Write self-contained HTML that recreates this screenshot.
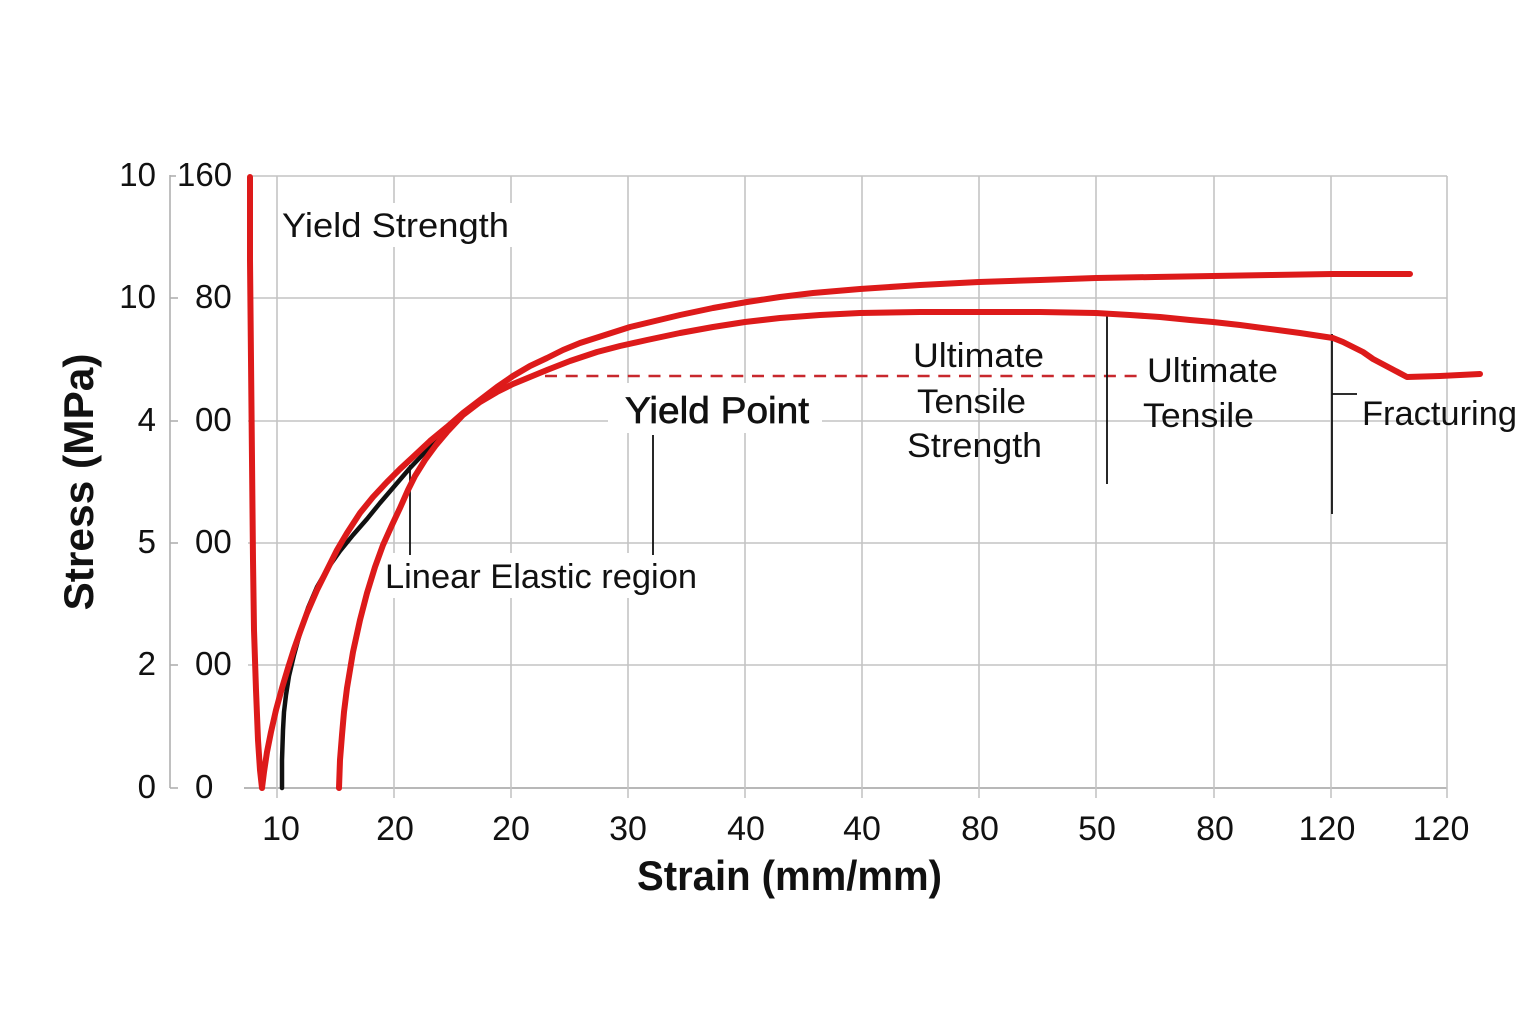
<!DOCTYPE html>
<html>
<head>
<meta charset="utf-8">
<style>
  html, body { margin: 0; padding: 0; background: #ffffff; }
  body { width: 1536px; height: 1024px; overflow: hidden; }
  svg { display: block; }
  text { font-family: "Liberation Sans", "DejaVu Sans", sans-serif; fill: #111; }
</style>
</head>
<body>
<svg width="1536" height="1024" viewBox="0 0 1536 1024" xmlns="http://www.w3.org/2000/svg">
  <rect x="0" y="0" width="1536" height="1024" fill="#ffffff"/>

  <!-- grid: horizontal -->
  <g stroke="#c4c4c4" stroke-width="1.6" fill="none">
    <line x1="252" y1="176" x2="1447" y2="176"/>
    <line x1="248" y1="298" x2="1447" y2="298"/>
    <line x1="248" y1="421" x2="1447" y2="421"/>
    <line x1="248" y1="543" x2="1447" y2="543"/>
    <line x1="248" y1="665" x2="1447" y2="665"/>
    <line x1="244" y1="788" x2="1447" y2="788" stroke="#b8b8b8" stroke-width="2"/>
  </g>
  <!-- grid: vertical -->
  <g stroke="#c4c4c4" stroke-width="1.6" fill="none">
    <line x1="277" y1="176" x2="277" y2="798"/>
    <line x1="394" y1="176" x2="394" y2="798"/>
    <line x1="511" y1="176" x2="511" y2="798"/>
    <line x1="628" y1="176" x2="628" y2="798"/>
    <line x1="745" y1="176" x2="745" y2="798"/>
    <line x1="862" y1="176" x2="862" y2="798"/>
    <line x1="979" y1="176" x2="979" y2="798"/>
    <line x1="1096" y1="176" x2="1096" y2="798"/>
    <line x1="1214" y1="176" x2="1214" y2="798"/>
    <line x1="1331" y1="176" x2="1331" y2="798"/>
    <line x1="1447" y1="176" x2="1447" y2="798"/>
  </g>

  <!-- left axis line with ticks -->
  <g stroke="#b0b0b0" stroke-width="1.6" fill="none">
    <line x1="170" y1="175" x2="170" y2="788"/>
    <line x1="170" y1="176" x2="176" y2="176"/>
    <line x1="170" y1="298" x2="178" y2="298"/>
    <line x1="170" y1="421" x2="178" y2="421"/>
    <line x1="170" y1="543" x2="178" y2="543"/>
    <line x1="170" y1="665" x2="178" y2="665"/>
    <line x1="170" y1="788" x2="178" y2="788"/>
  </g>

  <!-- white boxes behind some labels -->
  <rect x="279" y="203" width="235" height="44" fill="#fff"/>
  <rect x="381" y="553" width="321" height="45" fill="#fff"/>
  <rect x="608" y="383" width="214" height="50" fill="#fff"/>

  <!-- y tick labels -->
  <g font-size="33">
    <text x="156" y="186" text-anchor="end">10</text>
    <text x="156" y="308" text-anchor="end">10</text>
    <text x="156" y="431" text-anchor="end">4</text>
    <text x="156" y="553" text-anchor="end">5</text>
    <text x="156" y="675" text-anchor="end">2</text>
    <text x="156" y="798" text-anchor="end">0</text>

    <text x="177" y="186">160</text>
    <text x="195" y="308">80</text>
    <text x="195" y="431">00</text>
    <text x="195" y="553">00</text>
    <text x="195" y="675">00</text>
    <text x="195" y="798">0</text>
  </g>

  <!-- x tick labels -->
  <g font-size="34" text-anchor="middle">
    <text x="281" y="840">10</text>
    <text x="395" y="840">20</text>
    <text x="511" y="840">20</text>
    <text x="628" y="840">30</text>
    <text x="746" y="840">40</text>
    <text x="862" y="840">40</text>
    <text x="980" y="840">80</text>
    <text x="1097" y="840">50</text>
    <text x="1215" y="840">80</text>
    <text x="1327" y="840">120</text>
    <text x="1441" y="840">120</text>
  </g>

  <!-- axis titles -->
  <text x="637" y="890" font-size="42" font-weight="bold" textLength="305" lengthAdjust="spacingAndGlyphs">Strain (mm/mm)</text>
  <text transform="translate(93,482) rotate(-90)" text-anchor="middle" font-size="42" font-weight="bold" textLength="257" lengthAdjust="spacingAndGlyphs">Stress (MPa)</text>

  <!-- dashed yield line -->
  <line x1="545" y1="376" x2="1141" y2="376" stroke="#c8282d" stroke-width="2.6" stroke-dasharray="12,8.7"/>

  <!-- annotation leader lines -->
  <g stroke="#111" stroke-width="1.8" fill="none">
    <line x1="410" y1="465" x2="410" y2="555"/>
    <line x1="653" y1="435" x2="653" y2="555"/>
    <line x1="1107" y1="316" x2="1107" y2="484"/>
    <line x1="1332" y1="334" x2="1332" y2="514"/>
    <line x1="1332" y1="394" x2="1357" y2="394"/>
  </g>

  <!-- black elastic curve -->
  <polyline fill="none" stroke="#111" stroke-width="4.5" stroke-linejoin="round" stroke-linecap="round"
    points="282,788 282,760 283,730 284,712 286,695 289,676 294,655 300,633 308,608 317,587 328,568 340,551 353,535 367,519 380,503 392,489 410,468 430,447 463,414"/>

  <!-- red curve B (lower) -->
  <polyline fill="none" stroke="#dd1a1a" stroke-width="6" stroke-linejoin="round" stroke-linecap="round"
    points="339,788 340,760 342,735 344,712 347,688 353,652 360,620 367,593 375,567 383,545 392,525 400,508 408,490 415,476 425,460 436,445 447,432 463,415 480,402 497,392 513,384 530,377 547,370 570,361 597,352 620,346 647,340 680,333 713,327 745,322 780,318 820,315 860,313 920,312 979,312 1040,312 1096,313 1130,315 1160,317 1190,320 1213,322 1240,325 1270,329 1300,333 1333,338 1343,342 1353,347 1363,352 1373,359 1390,368 1407,377 1440,376 1480,374"/>

  <!-- red curve A (V + upper) -->
  <polyline fill="none" stroke="#dd1a1a" stroke-width="6" stroke-linejoin="round" stroke-linecap="round"
    points="250,177 250,260 251,360 252,460 253,560 254,630 256,690 258,740 260,770 262,788 264,772 267,752 271,732 276,710 282,688 288,668 294,649 300,632 307,613 317,590 327,570 337,550 347,533 360,513 373,497 387,482 400,469 413,457 430,441 447,427 463,413 480,400 497,387 513,376 530,366 547,358 563,350 580,343 605,335 630,327 655,321 680,315 713,308 747,302 780,297 813,293 860,289 920,285 979,282 1040,280 1096,278 1155,277 1213,276 1272,275 1332,274 1410,274"/>

  <!-- annotation texts -->
  <g font-size="34">
    <text x="282" y="237" textLength="227" lengthAdjust="spacingAndGlyphs">Yield Strength</text>
    <text x="385" y="588" textLength="312" lengthAdjust="spacingAndGlyphs">Linear Elastic region</text>
    <text x="913" y="367" textLength="131" lengthAdjust="spacingAndGlyphs">Ultimate</text>
    <text x="917" y="413" textLength="109" lengthAdjust="spacingAndGlyphs">Tensile</text>
    <text x="907" y="457" textLength="135" lengthAdjust="spacingAndGlyphs">Strength</text>
    <text x="1147" y="382" textLength="131" lengthAdjust="spacingAndGlyphs">Ultimate</text>
    <text x="1143" y="427" textLength="111" lengthAdjust="spacingAndGlyphs">Tensile</text>
    <text x="1362" y="425" textLength="155" lengthAdjust="spacingAndGlyphs">Fracturing</text>
  </g>
  <text x="625" y="423" font-size="37" stroke="#111" stroke-width="0.7" textLength="184" lengthAdjust="spacingAndGlyphs">Yield Point</text>
</svg>
</body>
</html>
